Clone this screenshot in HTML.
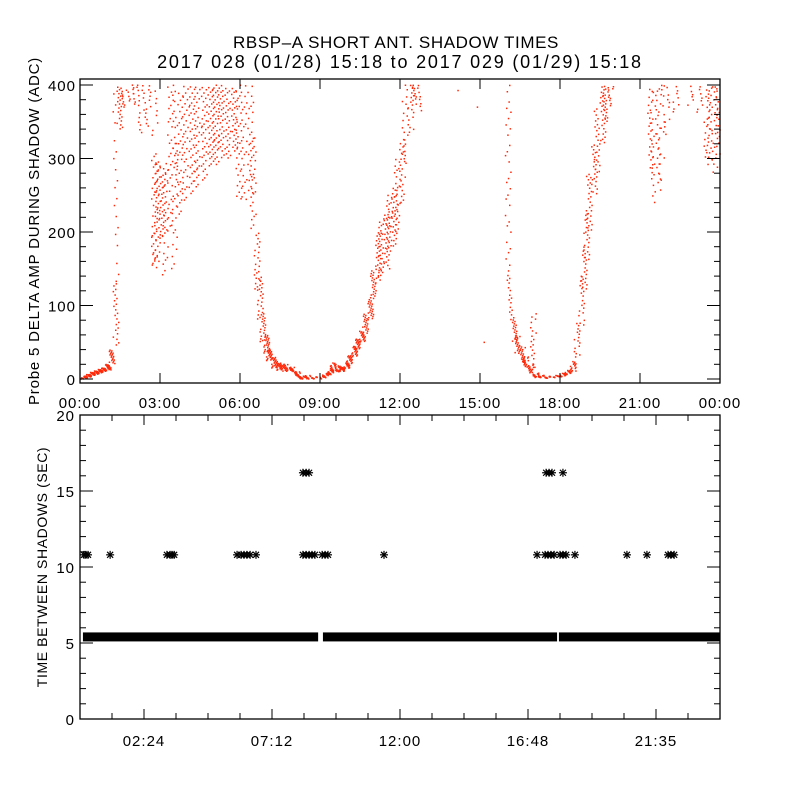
<!DOCTYPE html>
<html><head><meta charset="utf-8"><style>
html,body{margin:0;padding:0;background:#fff;}
svg{display:block;font-family:"Liberation Sans",sans-serif;}
</style></head><body>
<svg id="chart" width="800" height="800" viewBox="0 0 800 800">
<rect width="800" height="800" fill="#fff"/>
<text x="396" y="48" font-size="17" letter-spacing="0.6" text-anchor="middle">RBSP–A SHORT ANT. SHADOW TIMES</text>
<text x="400" y="68" font-size="18" letter-spacing="1.8" text-anchor="middle">2017 028 (01/28) 15:18 to 2017 029 (01/29) 15:18</text>
<g id="topPanel"></g>
<g id="botPanel"></g>
</svg>
<script>
// ---- top panel data: time bins (hours), lower/upper ADC value, point count
const binHours=[0.15,0.3,0.45,0.6,0.75,0.9,1.05,1.2,1.35,1.35,1.5,1.65,1.9,2.1,2.3,2.55,2.8,2.8,2.9,3.1,3.2,3.4,3.55,3.55,3.75,3.95,4.2,4.4,4.65,4.9,5.1,5.3,5.55,5.8,5.95,6.15,6.4,6.5,6.65,6.75,6.85,7.0,7.1,7.3,7.5,7.7,7.95,8.15,8.3,8.55,8.8,9.1,9.2,9.4,9.5,9.7,9.8,10.0,10.1,10.3,10.4,10.6,10.7,10.9,11.0,11.2,11.3,11.5,11.6,11.8,11.9,12.1,12.2,12.4,12.5,12.7,14.2,14.8,15.15,16.05,16.1,16.3,16.4,16.6,16.7,16.9,17.0,17.1,17.3,17.55,17.85,18.1,18.3,18.5,18.65,18.8,18.9,19.0,19.1,19.3,19.4,19.6,19.7,19.9,21.4,21.5,21.7,21.8,22.0,22.35,22.9,23.25,23.5,23.6,23.8,23.9];
const binLo=[0,2,4,6,8,10,12,20,45,130,340,370,375,370,330,340,150,330,160,190,140,200,150,250,220,240,250,260,270,290,290,300,300,310,240,240,250,200,120,80,50,35,25,15,12,10,10,3,0,0,0,0,2,6,12,10,10,14,20,30,40,50,60,80,110,130,140,150,170,180,200,240,290,330,370,360,385,370,50,150,80,50,35,20,15,8,10,2,2,1,2,3,6,10,30,70,120,160,200,250,280,320,350,370,280,240,260,250,330,360,370,360,300,290,280,300];
const binHi=[4,6,9,11,13,15,20,40,130,400,400,400,400,400,400,400,310,400,300,290,300,400,330,400,390,400,400,400,400,400,400,400,400,400,400,400,400,330,200,140,90,60,40,30,22,20,16,10,4,5,3,4,8,12,22,18,16,22,32,45,55,65,90,110,150,200,220,230,250,260,300,330,400,400,400,400,400,370,50,400,150,85,60,45,30,20,90,8,5,4,5,8,12,25,80,140,180,230,280,320,370,400,400,400,400,400,400,400,400,400,400,400,400,400,400,400];
const binCount=[10,12,12,12,12,12,12,12,14,12,14,6,5,5,8,8,25,5,25,20,15,20,15,10,20,20,22,22,22,22,22,20,18,18,18,16,16,16,14,14,14,14,14,14,14,12,10,10,10,8,5,5,8,10,10,10,10,10,12,12,12,12,14,14,14,16,16,16,16,16,16,14,12,10,6,5,1,1,1,18,10,12,12,12,10,10,12,8,8,6,5,8,8,10,10,12,12,14,14,14,14,14,12,6,14,14,14,10,6,5,4,5,12,14,14,10];
const topXTicks=["00:00","03:00","06:00","09:00","12:00","15:00","18:00","21:00","00:00"];
const topYTicks=[0,100,200,300,400];
// ---- bottom panel data
const bandStart=[0.11,9.11,17.96];
const bandEnd=[8.93,17.89,24];
const bandValue=5.4;
const star10Hours=[0.15,0.22,0.3,1.13,3.26,3.38,3.45,3.53,5.89,6.04,6.15,6.26,6.38,6.6,8.36,8.48,8.59,8.7,8.81,9.08,9.19,9.3,11.4,17.14,17.44,17.55,17.66,17.78,18.0,18.11,18.23,18.56,20.51,21.26,22.05,22.16,22.28];
const star10Value=10.8;
const star16Hours=[8.36,8.48,8.59,17.48,17.59,17.7,18.11];
const star16Value=16.2;
const botXTicks=["02:24","07:12","12:00","16:48","21:35"];
const botYTicks=[0,5,10,15,20];

const NS="http://www.w3.org/2000/svg";
function mk(tag,attrs,parent){const e=document.createElementNS(NS,tag);for(const k in attrs)e.setAttribute(k,attrs[k]);parent.appendChild(e);return e;}
const L=80,R=720;
const xh=h=>L+h/24*(R-L);
const TT=79,TB=383;
const yTop=v=>379-v*(294/400);
const topG=document.getElementById('topPanel');
const dots=mk('g',{fill:'#ff2a0a'},topG);


const DENS=1.6;
for(let i=0;i<binHours.length;i++){
  const n=binCount[i]===1?1:Math.round(binCount[i]*DENS);
  for(let k=0;k<n;k++){
    const f=n===1?0.5:((k*0.618034+i*0.377)%1);
    const j=((k*0.41421+i*0.569+f*0.3)%1)-0.5;
    const v=binLo[i]+(binHi[i]-binLo[i])*f;
    const r=mk('rect',{x:(xh(binHours[i])+j*6-0.7).toFixed(1),y:(yTop(v)-0.7).toFixed(1),width:1.5,height:1.5},dots);
    
    
  }
}
const tf=mk('rect',{x:L,y:TT,width:R-L,height:TB-TT,fill:'none',stroke:'#000','stroke-width':1.3},topG);


for(let v=0;v<=400;v+=20){
  const y=yTop(v),len=(v%100===0)?13:6;
  mk('line',{x1:L,x2:L+len,y1:y,y2:y,stroke:'#000'},topG);
  mk('line',{x1:R,x2:R-len,y1:y,y2:y,stroke:'#000'},topG);
}
topYTicks.forEach(v=>{const t=mk('text',{x:L-4,y:yTop(v)+6,'font-size':15,'letter-spacing':1,'text-anchor':'end'},topG);t.textContent=v;
  
  });
topXTicks.forEach((s,i)=>{const x=xh(i*3);
  mk('line',{x1:x,x2:x,y1:TB,y2:TB-10,stroke:'#000'},topG);
  mk('line',{x1:x,x2:x,y1:TT,y2:TT+10,stroke:'#000'},topG);
  const t=mk('text',{x:x,y:408,'font-size':15,'letter-spacing':1,'text-anchor':'middle'},topG);t.textContent=s;
  
  });
const yl=mk('text',{x:0,y:0,'font-size':15,'letter-spacing':0.8,'text-anchor':'middle',transform:'translate(39,231) rotate(-90)'},topG);
yl.textContent='Probe 5 DELTA AMP DURING SHADOW (ADC)';


// bottom axes
const BT=415,BB=719;
const yBot=v=>BB-v*(BB-BT)/20;
const botG=document.getElementById('botPanel');
bandStart.forEach((s,i)=>{const r=mk('rect',{x:xh(s),y:yBot(bandValue)-4.5,width:xh(bandEnd[i])-xh(s),height:9,fill:'#000'},botG);
  
  });
function star(h,v){const g=mk('g',{stroke:'#000','stroke-width':1.2},botG);
  
  
  const x=xh(h),y=yBot(v),s=4;
  mk('line',{x1:x-s,x2:x+s,y1:y,y2:y},g);mk('line',{x1:x,x2:x,y1:y-s,y2:y+s},g);
  mk('line',{x1:x-3,x2:x+3,y1:y-3,y2:y+3},g);mk('line',{x1:x-3,x2:x+3,y1:y+3,y2:y-3},g);}
star10Hours.forEach(h=>star(h,star10Value));
star16Hours.forEach(h=>star(h,star16Value));
const bf=mk('rect',{x:L,y:BT,width:R-L,height:BB-BT,fill:'none',stroke:'#000','stroke-width':1.3},botG);


for(let v=0;v<=20;v++){const y=yBot(v),len=(v%5===0)?13:6;
  mk('line',{x1:L,x2:L+len,y1:y,y2:y,stroke:'#000'},botG);
  mk('line',{x1:R,x2:R-len,y1:y,y2:y,stroke:'#000'},botG);}
for(let k=1;k<20;k++){const x=L+k*32,len=(k%4===2)?10:6;
  mk('line',{x1:x,x2:x,y1:BB,y2:BB-len,stroke:'#000'},botG);
  mk('line',{x1:x,x2:x,y1:BT,y2:BT+len,stroke:'#000'},botG);}
botYTicks.forEach(v=>{const t=mk('text',{x:L-5,y:yBot(v)+6,'font-size':15,'letter-spacing':1,'text-anchor':'end'},botG);t.textContent=v;
  
  });
botXTicks.forEach((s,i)=>{
  const xx=L+(2+4*i)*32;
  const t=mk('text',{x:xx,y:746,'font-size':15,'letter-spacing':1,'text-anchor':'middle'},botG);t.textContent=s;
  
  });
const yl2=mk('text',{x:0,y:0,'font-size':14,'letter-spacing':0.6,'text-anchor':'middle',transform:'translate(47,567) rotate(-90)'},botG);
yl2.textContent='TIME BETWEEN SHADOWS (SEC)';


</script>
</body></html>
